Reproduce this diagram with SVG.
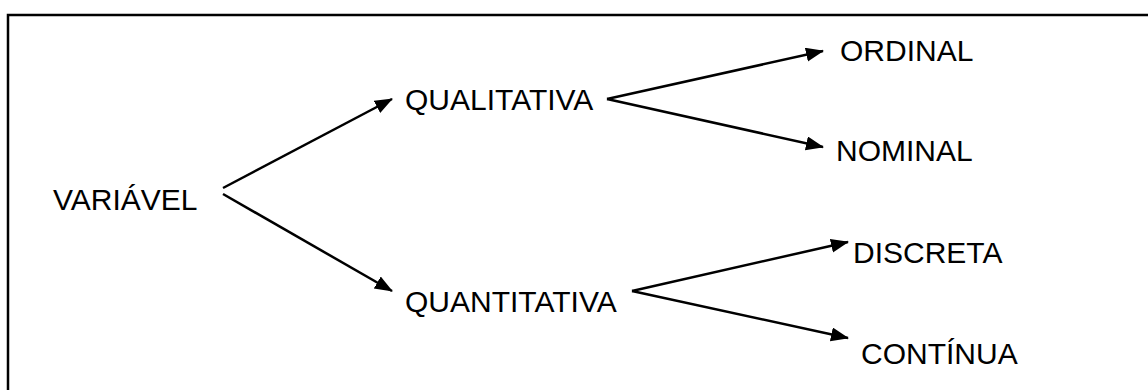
<svg xmlns="http://www.w3.org/2000/svg" width="1148" height="390" viewBox="0 0 1148 390">
<style>
.t{font-family:"Liberation Sans",Arial,sans-serif;font-size:30px;fill:#000}
.c line{stroke:#000;stroke-width:2.5;marker-end:url(#ah)}
</style>
<defs>
<marker id="ah" markerUnits="userSpaceOnUse" markerWidth="20" markerHeight="16" refX="17" refY="7" orient="auto">
<path d="M0,0 L18,7 L0,14 Z" fill="#000"/>
</marker>
</defs>
<rect x="0" y="0" width="1148" height="390" fill="#fff"/>
<rect x="8" y="15" width="1160" height="400" fill="none" stroke="#000" stroke-width="2.5"/>
<g class="c" id="connectors">
<line x1="223" y1="188" x2="392" y2="99"/>
<line x1="223" y1="194" x2="392" y2="291"/>
<line x1="607" y1="99" x2="823" y2="51"/>
<line x1="607" y1="99" x2="823" y2="147"/>
<line x1="632" y1="291" x2="848" y2="242"/>
<line x1="632" y1="291" x2="848" y2="338"/>
</g>
<g id="n-variavel"><text class="t" x="53" y="210">VARIÁVEL</text></g>
<g id="n-qualitativa"><text class="t" x="405" y="110">QUALITATIVA</text></g>
<g id="n-quantitativa"><text class="t" x="405" y="312">QUANTITATIVA</text></g>
<g id="n-ordinal"><text class="t" x="840" y="61">ORDINAL</text></g>
<g id="n-nominal"><text class="t" x="836" y="161">NOMINAL</text></g>
<g id="n-discreta"><text class="t" x="853" y="263">DISCRETA</text></g>
<g id="n-continua"><text class="t" x="861" y="364">CONTÍNUA</text></g>
</svg>
